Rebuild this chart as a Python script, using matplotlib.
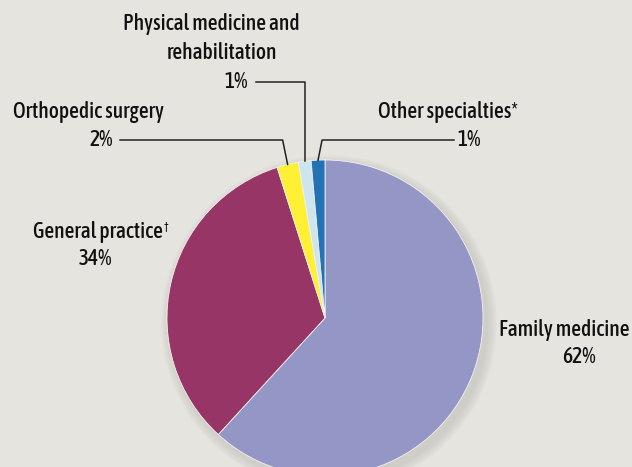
import numpy as np
import matplotlib.pyplot as plt
from matplotlib.patches import Circle
from matplotlib import font_manager as fm

# Share of physicians by specialty
specialties = ["Family medicine", "General practice", "Orthopedic surgery",
               "Physical medicine and rehabilitation", "Other specialties"]
shares = [61.8, 33.3, 2.2, 1.3, 1.4]
pct_labels = ["62%", "34%", "2%", "1%", "1%"]
colors = ["#9496c6", "#973566", "#fff036", "#cde5ee", "#2472b6"]

W, H = 632, 467
bg = "#e6e4df"

# look for a condensed sans face, the chart uses a narrow font
cands = []
for f in fm.fontManager.ttflist:
    nm = f.name + " " + str(f.fname)
    narrow = ('Condensed' in nm or 'Narrow' in nm or
              str(f.stretch) in ('condensed', 'semi-condensed', 'extra-condensed'))
    if narrow and f.style == 'normal' and 'Serif' not in nm and 'Mono' not in nm:
        cands.append(f)
cands.sort(key=lambda f: (abs(int(f.weight) - 500) if str(f.weight).isdigit() else 100, f.name))
if cands:
    fp = fm.FontProperties(fname=cands[0].fname)
    fs = 15.5
    font_note = cands[0].name
else:
    fp = fm.FontProperties(family='DejaVu Sans')
    fs = 11.5
    font_note = "none"
print("font:", font_note)

fig = plt.figure(figsize=(W / 100, H / 100), dpi=100, facecolor=bg)
ax = fig.add_axes([0, 0, 1, 1])

cx, cy, r = 325, H - 318, 158

# soft drop shadow
for i in range(10):
    ax.add_patch(Circle((cx + 4, cy - 5), r + 10 - i, color="#8a877f", alpha=0.025, lw=0, zorder=0))

wedges, _ = ax.pie(shares, colors=colors, startangle=90, counterclock=False,
                   center=(cx, cy), radius=r,
                   wedgeprops=dict(edgecolor="#f4f2ee", linewidth=0.6))
ax.set_xlim(0, W)
ax.set_ylim(0, H)
ax.set_aspect('equal')
ax.axis('off')


def edge_point(w):
    a = np.deg2rad((w.theta1 + w.theta2) / 2)
    return cx + r * np.cos(a), cy + r * np.sin(a)


def py(y):
    return H - y


def label(x, y, s, ha='center', size=None):
    ax.text(x, py(y), s, ha=ha, va='center', fontproperties=fp,
            fontsize=size or fs, color="#111111")


lc = "#222222"
lw = 1.1

# Physical medicine and rehabilitation
label(211, 24, "Physical medicine and")
label(222, 53, "rehabilitation")
label(236, 82, pct_labels[3])
ex, ey = edge_point(wedges[3])
ax.plot([256, ex, ex], [py(82), py(82), ey], color=lc, lw=lw)

# Orthopedic surgery
label(88, 112, "Orthopedic surgery")
label(101, 140, pct_labels[2])
ex, ey = edge_point(wedges[2])
ax.plot([120, ex - 5, ex], [py(140), py(140), ey], color=lc, lw=lw)

# Other specialties
label(448, 112, "Other specialties*")
label(469, 140, pct_labels[4])
ex, ey = edge_point(wedges[4])
ax.plot([454, ex + 4, ex], [py(140), py(140), ey], color=lc, lw=lw)

# General practice
label(163, 232, "General practice", ha='right')
label(164, 226, "\u2020", ha='left', size=fs * 0.5)
label(95, 259, pct_labels[1])

# Family medicine
label(564, 330, "Family medicine")
label(579, 357, pct_labels[0])

fig.savefig("out.png", dpi=100, facecolor=bg)
